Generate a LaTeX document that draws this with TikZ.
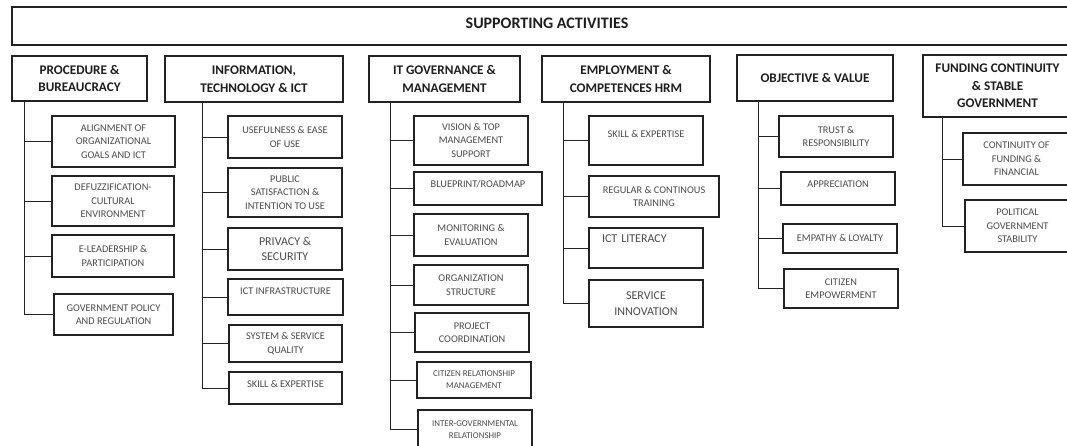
\documentclass[tikz,border=0pt]{standalone}
\usepackage{fontspec}
\setmainfont{Carlito}
\definecolor{ln}{RGB}{35,35,35}
\definecolor{hd}{RGB}{30,30,30}
\definecolor{kt}{RGB}{75,75,75}
\tikzset{
  topbox/.style={draw=ln, line width=1.3pt, font=\bfseries\fontsize{16}{19}\selectfont, text=hd, inner sep=0pt},
  hdr/.style={draw=ln, line width=1.3pt, font=\bfseries\fontsize{13.2}{17.5}\selectfont, text=hd, align=center, inner sep=0pt},
  kid/.style={draw=ln, line width=1.3pt, font=\fontsize{10.3}{13.5}\selectfont, text=kt, align=center, inner sep=0pt},
  big/.style={font=\fontsize{12}{15.5}\selectfont},
  small/.style={font=\fontsize{8.9}{12}\selectfont},
  conn/.style={draw=ln, line width=0.9pt},
}
\newcommand\bx[7]{\node[#1, minimum width={(#5-#3)*1pt}, minimum height={(#6-#4)*1pt}] (#2) at ({(#3+#5)/2},{(#4+#6)/2}) {#7};}
\begin{document}
\begin{tikzpicture}[x=1pt,y=-1pt]
\useasboundingbox (0,0) rectangle (1067,446);
\clip (0,0) rectangle (1067,446);
\fill[white] (0,0) rectangle (1067,446);
% top
\bx{topbox, text depth=5pt}{top}{12}{7}{1082}{45}{SUPPORTING ACTIVITIES}
% headers
\bx{hdr}{h1}{12}{56}{147}{101}{PROCEDURE \&\\BUREAUCRACY}
\bx{hdr}{h2}{165}{56}{343}{102}{INFORMATION,\\TECHNOLOGY \& ICT}
\bx{hdr}{h3}{369}{56}{520}{102}{IT GOVERNANCE \&\\MANAGEMENT}
\bx{hdr}{h4}{542}{56}{710}{102}{EMPLOYMENT \&\\COMPETENCES HRM}
\bx{hdr}{h5}{737}{55}{893}{101}{OBJECTIVE \& VALUE}
\bx{hdr}{h6}{923}{55}{1072}{117}{FUNDING CONTINUITY\\\& STABLE\\GOVERNMENT}
% column 1
\bx{kid}{a1}{52}{116}{175}{167}{ALIGNMENT OF\\ORGANIZATIONAL\\GOALS AND ICT}
\bx{kid}{a2}{52}{176}{174}{226}{DEFUZZIFICATION-\\CULTURAL\\ENVIRONMENT}
\bx{kid}{a3}{52}{235}{174}{277}{E-LEADERSHIP \&\\PARTICIPATION}
\bx{kid}{a4}{54}{294}{173}{335}{GOVERNMENT POLICY\\AND REGULATION}
% column 2
\bx{kid}{b1}{228}{116}{342}{158}{USEFULNESS \& EASE\\OF USE}
\bx{kid}{b2}{228}{168}{342}{217}{PUBLIC\\SATISFACTION \&\\INTENTION TO USE}
\bx{kid,big}{b3}{228}{228}{342}{270}{PRIVACY \&\\SECURITY}
\bx{kid,text depth=12pt}{b4}{228}{279}{343}{315}{ICT INFRASTRUCTURE}
\bx{kid}{b5}{229}{325}{342}{362}{SYSTEM \& SERVICE\\QUALITY}
\bx{kid,text depth=8pt}{b6}{229}{372}{342}{404}{SKILL \& EXPERTISE}
% column 3
\bx{kid}{c1}{414}{116}{528}{165}{VISION \& TOP\\MANAGEMENT\\SUPPORT}
\bx{kid,text depth=9pt}{c2}{414}{172}{542}{205}{BLUEPRINT/ROADMAP}
\bx{kid}{c3}{414}{214}{528}{256}{MONITORING \&\\EVALUATION}
\bx{kid}{c4}{414}{265}{528}{305}{ORGANIZATION\\STRUCTURE}
\bx{kid}{c5}{415}{313}{529}{352}{PROJECT\\COORDINATION}
\bx{kid,small}{c6}{417}{362}{531}{398}{CITIZEN RELATIONSHIP\\MANAGEMENT}
\bx{kid,small}{c7}{418}{410}{532}{449}{INTER-GOVERNMENTAL\\RELATIONSHIP}
% column 4
\bx{kid,text depth=13pt}{d1}{589}{116}{703}{165}{SKILL \& EXPERTISE}
\bx{kid}{d2}{589}{176}{719}{217}{REGULAR \& CONTINOUS\\TRAINING}
\bx{kid,big,text depth=18pt,inner xsep=13pt,text width=88pt,align=left}{d3}{589}{228}{703}{268}{ICT LITERACY}
\bx{kid,big}{d4}{589}{280}{703}{327}{SERVICE\\INNOVATION}
% column 5
\bx{kid}{e1}{779}{116}{893}{157}{TRUST \&\\RESPONSIBILITY}
\bx{kid,text depth=8pt}{e2}{781}{172}{895}{205}{APPRECIATION}
\bx{kid}{e3}{783}{224}{897}{253}{EMPATHY \& LOYALTY}
\bx{kid}{e4}{784}{269}{898}{308}{CITIZEN\\EMPOWERMENT}
% column 6
\bx{kid}{f1}{963}{133}{1070}{185}{CONTINUITY OF\\FUNDING \&\\FINANCIAL}
\bx{kid}{f2}{965}{200}{1070}{252}{POLITICAL\\GOVERNMENT\\STABILITY}
% connectors
\foreach \c in {a1,a2,a3,a4} \draw[conn] ([xshift=13pt]h1.south west) |- (\c.west);
\foreach \c in {b1,b2,b3,b4,b5,b6} \draw[conn] ([xshift=38pt]h2.south west) |- (\c.west);
\foreach \c in {c1,c2,c3,c4,c5,c6,c7} \draw[conn] ([xshift=22pt]h3.south west) |- (\c.west);
\foreach \c in {d1,d2,d3,d4} \draw[conn] ([xshift=22pt]h4.south west) |- (\c.west);
\foreach \c in {e1,e2,e3,e4} \draw[conn] ([xshift=22pt]h5.south west) |- (\c.west);
\foreach \c in {f1,f2} \draw[conn] ([xshift=20pt]h6.south west) |- (\c.west);
\end{tikzpicture}
\end{document}
